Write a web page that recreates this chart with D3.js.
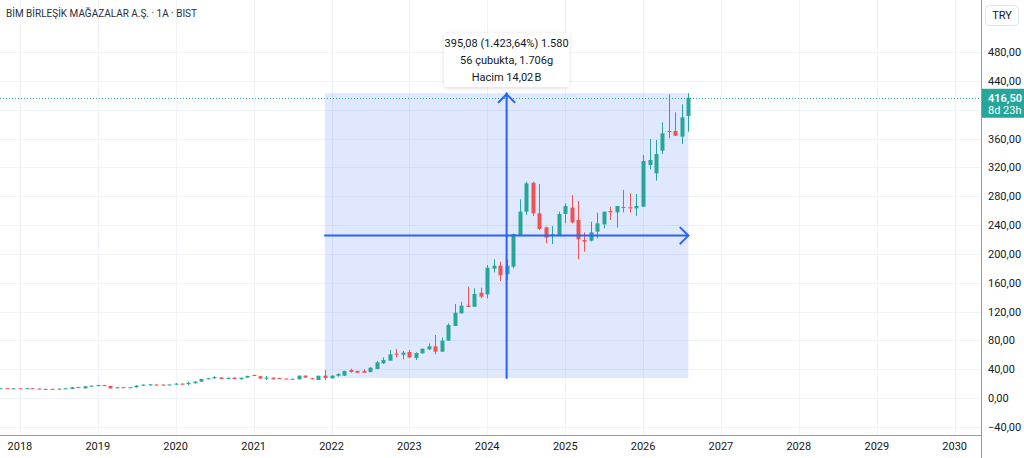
<!DOCTYPE html>
<html><head><meta charset="utf-8">
<script src="https://cdn.jsdelivr.net/npm/d3@7"></script>
<style>
html,body{margin:0;padding:0;background:#fff;overflow:hidden}
svg{display:block;font-family:Roboto,"Noto Sans",sans-serif}
</style></head>
<body><svg id="c" width="1024" height="458"></svg>
<script>
// Monthly candles (1A = 1 month), BIMAS, TRY
const months = ["2017-10","2017-11","2017-12",
"2018-01","2018-02","2018-03","2018-04","2018-05","2018-06","2018-07","2018-08","2018-09","2018-10","2018-11","2018-12",
"2019-01","2019-02","2019-03","2019-04","2019-05","2019-06","2019-07","2019-08","2019-09","2019-10","2019-11","2019-12",
"2020-01","2020-02","2020-03","2020-04","2020-05","2020-06","2020-07","2020-08","2020-09","2020-10","2020-11","2020-12",
"2021-01","2021-02","2021-03","2021-04","2021-05","2021-06","2021-07","2021-08","2021-09","2021-10","2021-11","2021-12",
"2022-01","2022-02","2022-03","2022-04","2022-05","2022-06","2022-07","2022-08","2022-09","2022-10","2022-11","2022-12",
"2023-01","2023-02","2023-03","2023-04","2023-05","2023-06","2023-07","2023-08","2023-09","2023-10","2023-11","2023-12",
"2024-01","2024-02","2024-03","2024-04","2024-05","2024-06","2024-07","2024-08","2024-09","2024-10","2024-11","2024-12",
"2025-01","2025-02","2025-03","2025-04","2025-05","2025-06","2025-07","2025-08","2025-09","2025-10","2025-11","2025-12",
"2026-01","2026-02","2026-03","2026-04","2026-05","2026-06","2026-07","2026-08"];
const open = [13.2,13.6,12.6,
13.4,13.2,13.5,13.0,12.3,12.7,12.4,12.9,12.5,15.2,13.4,16.2,
16.6,18.0,16.8,13.4,15.0,14.6,14.8,17.1,17.6,18.6,18.6,18.3,
18.5,19.9,19.2,20.5,22.7,26.6,27.3,28.5,26.5,28.2,26.0,28.3,
31.9,30.2,27.8,28.2,27.6,27.0,26.2,26.0,31.0,27.4,25.0,31.0,
27.3,31.0,31.0,38.8,37.5,37.5,36.1,40.2,48.1,51.8,61.5,60.1,
63.8,55.5,62.0,67.5,71.7,64.3,79.5,99.9,117.5,128.1,126.7,146.1,
143.8,179.4,183.6,171.6,182.2,226.1,258.5,298.7,256.2,236.8,225.2,225.2,
255.3,264.1,246.9,219.2,218.3,230.8,240.9,259.4,257.6,265.0,264.5,263.1,
265.4,323.3,311.7,343.1,369.5,370.4,362.6,391.2];
const high = [13.8,13.8,13.5,
13.7,13.8,13.7,13.1,12.9,12.9,13.2,13.8,15.0,15.6,16.5,17.5,
18.4,18.3,17.0,15.1,15.4,15.2,17.8,18.8,19.5,19.0,18.9,19.0,
20.5,20.4,22.5,23.0,26.8,28.0,30.2,29.0,28.5,28.6,28.5,31.0,
32.3,30.5,30.5,28.5,28.0,27.3,27.0,31.3,31.5,27.8,31.3,38.8,
31.5,34.2,37.8,40.7,37.8,39.8,42.5,51.3,56.4,66.6,68.0,65.2,
66.6,63.4,68.4,75.8,87.4,83.7,103.6,130.4,133.6,154.5,152.1,153.1,
184.5,192.4,189.1,192.4,228.0,275.6,300.1,300.1,296.9,237.7,238.6,258.5,
270.1,281.6,273.3,229.8,244.6,257.1,258.5,265.4,266.4,288.6,283.9,283.0,
337.1,359.3,357.9,382.4,421.3,396.3,407.4,422.8];
const low = [13.0,13.1,12.4,
13.0,13.0,13.0,12.3,12.0,12.1,12.2,12.5,12.3,14.2,13.2,15.8,
16.2,16.4,13.1,13.2,14.2,14.3,14.6,16.6,17.2,17.8,17.9,18.0,
18.2,18.8,17.5,20.0,22.4,26.0,26.8,26.0,26.0,25.9,25.5,28.0,
30.3,26.7,25.0,25.7,26.5,26.2,25.8,25.7,28.0,25.6,24.7,25.0,
27.0,29.6,30.5,35.1,34.8,35.1,35.5,40.2,47.2,51.8,56.0,53.6,
55.5,52.7,61.5,66.6,60.6,64.3,79.5,99.9,117.0,126.0,126.7,138.3,
138.0,174.3,162.3,163.7,180.0,225.0,253.9,252.5,233.1,214.6,213.7,225.2,
242.3,242.3,192.4,203.0,216.9,221.5,235.4,246.9,236.3,257.6,257.1,252.5,
265.4,317.2,301.5,338.5,360.3,363.9,352.4,369.5];
const close = [13.5,13.3,13.3,
13.2,13.5,13.2,12.5,12.6,12.4,12.9,13.4,14.8,14.7,16.2,17.1,
18.0,16.6,13.4,14.8,14.6,14.9,17.1,18.5,19.0,18.2,18.2,18.7,
19.9,19.2,21.0,22.7,26.4,27.3,29.0,26.5,28.0,26.2,28.0,30.5,
30.8,27.0,28.2,26.0,27.0,26.6,26.5,31.0,28.4,26.0,30.8,27.75,
31.0,33.3,37.5,36.1,35.1,35.1,42.1,49.5,52.7,60.6,60.1,62.9,
56.4,62.4,68.4,71.7,64.3,79.5,101.3,118.4,128.1,126.2,144.3,140.6,
180.8,183.6,170.2,183.6,227.5,258.5,297.8,256.2,234.5,222.4,227.1,255.3,
266.4,243.7,220.1,216.9,229.8,242.3,258.5,257.6,266.4,264.5,263.1,266.4,
328.8,330.2,338.5,367.2,370.4,363.9,389.4,416.5];
const yTicks = [-40,0,40,80,120,160,200,240,280,320,360,440,480];
const yearTicks = [2018,2019,2020,2021,2022,2023,2024,2025,2026,2027,2028,2029,2030];
const measureStart = "2021-12", measureEnd = "2026-08";
const measureLow = 27.75, measureHigh = 422.83;
const tooltipLines = ["395,08 (1.423,64%) 1.580","56 çubukta, 1.706g","Hacim 14,02\u202FB"];
const lastPrice = 416.50, countdown = "8d 23h";
const title = "BİM BİRLEŞİK MAĞAZALAR A.Ş. · 1A · BIST";

const W=1024,H=458, plotR=981, plotB=435;
const up="#26a69a", dn="#ef5350", blue="#2962ff";
const svg=d3.select("#c");
const parse=d3.utcParse("%Y-%m");
const x=d3.scaleUtc().domain([new Date(Date.UTC(2018,0,1)),new Date(Date.UTC(2030,0,1))]).range([19.9,954.7]);
const y=d3.scaleLinear().domain([0,480]).range([398,52]);
const fmt=v=>d3.format(".2f")(v).replace(".",",").replace("-","\u2212");

svg.append("defs").append("clipPath").attr("id","pc").append("rect").attr("x",0).attr("y",0).attr("width",plotR).attr("height",plotB);
svg.select("defs").append("filter").attr("id","sh").attr("x","-20%").attr("y","-30%").attr("width","140%").attr("height","160%")
  .append("feDropShadow").attr("dx",0).attr("dy",1).attr("stdDeviation",2).attr("flood-color","#000").attr("flood-opacity",0.15);

// grid
const g=svg.append("g").attr("clip-path","url(#pc)");
g.selectAll(".hg").data(yTicks.concat([400])).join("line")
  .attr("x1",0).attr("x2",plotR).attr("y1",d=>Math.round(y(d))+0.5).attr("y2",d=>Math.round(y(d))+0.5)
  .attr("stroke","#f0f3fa");
g.selectAll(".vg").data(yearTicks).join("line")
  .attr("x1",d=>Math.round(x(new Date(Date.UTC(d,0,1))))+0.5).attr("x2",d=>Math.round(x(new Date(Date.UTC(d,0,1))))+0.5)
  .attr("y1",0).attr("y2",plotB).attr("stroke","#f0f3fa");

// measurement box
const mx0=x(parse(measureStart)), mx1=x(parse(measureEnd));
const my0=y(measureLow), my1=y(measureHigh);
g.append("rect").attr("x",mx0).attr("y",my1).attr("width",mx1-mx0).attr("height",my0-my1)
  .attr("fill",blue).attr("fill-opacity",0.15);

// last price dotted line
g.append("line").attr("x1",0).attr("x2",plotR).attr("y1",Math.round(y(lastPrice))+0.5).attr("y2",Math.round(y(lastPrice))+0.5)
  .attr("stroke",up).attr("stroke-dasharray","1,2").attr("stroke-width",1);

// candles
const data=months.map((m,i)=>({d:parse(m),o:open[i],h:high[i],l:low[i],c:close[i]}));
const bw=4;
const cg=g.append("g");
cg.selectAll(".w").data(data).join("line")
  .attr("x1",d=>Math.round(x(d.d))+0.5).attr("x2",d=>Math.round(x(d.d))+0.5)
  .attr("y1",d=>y(d.h)).attr("y2",d=>y(d.l))
  .attr("stroke",d=>d.c>=d.o?up:dn).attr("stroke-width",1);
cg.selectAll(".b").data(data).join("rect")
  .attr("x",d=>Math.round(x(d.d))-1.5).attr("width",bw)
  .attr("y",d=>y(Math.max(d.o,d.c)))
  .attr("height",d=>Math.max(1,Math.abs(y(d.o)-y(d.c))))
  .attr("fill",d=>d.c>=d.o?up:dn);

// arrows
const mxm=(mx0+mx1)/2, mym=y((measureLow+measureHigh)/2);
const ag=g.append("g").attr("stroke",blue).attr("stroke-width",2).attr("fill","none").attr("stroke-linecap","round");
ag.append("line").attr("x1",mxm).attr("x2",mxm).attr("y1",my0).attr("y2",my1);
ag.append("path").attr("d",`M${mxm-8},${my1+9}L${mxm},${my1+1}L${mxm+8},${my1+9}`);
ag.append("line").attr("x1",mx0).attr("x2",mx1).attr("y1",mym).attr("y2",mym);
ag.append("path").attr("d",`M${mx1-8},${mym-8}L${mx1},${mym}L${mx1-8},${mym+8}`);

// axes lines
svg.append("line").attr("x1",plotR+0.5).attr("x2",plotR+0.5).attr("y1",0).attr("y2",H).attr("stroke","#9598a1");
svg.append("line").attr("x1",0).attr("x2",plotR).attr("y1",plotB+0.5).attr("y2",plotB+0.5).attr("stroke","#9598a1");

// y labels
svg.selectAll(".yl").data(yTicks).join("text")
  .attr("x",988).attr("y",d=>y(d)+4).attr("font-size",11).attr("fill","#131722").text(fmt);
// x labels
svg.selectAll(".xl").data(yearTicks).join("text")
  .attr("x",d=>x(new Date(Date.UTC(d,0,1)))).attr("y",450).attr("text-anchor","middle")
  .attr("font-size",11).attr("fill","#131722").text(d=>d);

// price label
const py=y(lastPrice);
svg.append("rect").attr("x",plotR+1).attr("y",py-9).attr("width",W-plotR-1).attr("height",29).attr("fill",up);
svg.append("text").attr("x",988).attr("y",py+4).attr("font-size",11).attr("font-weight",600).attr("fill","#fff").text(fmt(lastPrice));
svg.append("text").attr("x",988).attr("y",py+16).attr("font-size",11).attr("fill","#fff").text(countdown);

// TRY box
svg.append("rect").attr("x",985.5).attr("y",5.5).attr("width",33).attr("height",20).attr("rx",4)
  .attr("fill","#fff").attr("stroke","#e0e3eb");
svg.append("text").attr("x",1002).attr("y",19).attr("text-anchor","middle").attr("font-size",11).attr("fill","#131722").text("TRY");

// title
svg.append("text").attr("x",6).attr("y",17).attr("font-size",11).attr("fill","#2a2e39")
  .attr("textLength",191).attr("lengthAdjust","spacingAndGlyphs").text(title);

// tooltip
const tw=125, th=54, tx=mxm-tw/2, ty=33;
svg.append("rect").attr("x",tx).attr("y",ty).attr("width",tw).attr("height",th).attr("rx",4)
  .attr("fill","#fff").attr("filter","url(#sh)");
svg.selectAll(".tt").data(tooltipLines).join("text")
  .attr("x",mxm).attr("y",(d,i)=>ty+14+i*17).attr("text-anchor","middle")
  .attr("font-size",11).attr("fill","#131722").text(d=>d);
</script></body></html>
